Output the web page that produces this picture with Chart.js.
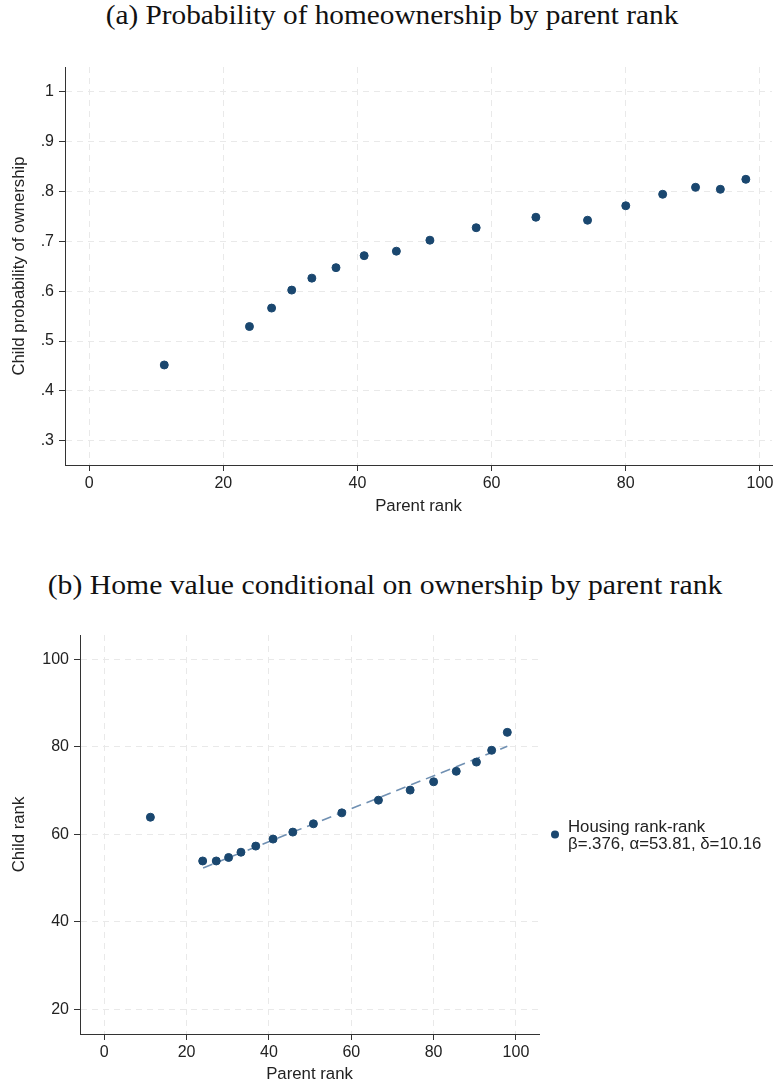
<!DOCTYPE html>
<html><head><meta charset="utf-8">
<script src="https://cdn.jsdelivr.net/npm/chart.js@4.4.1/dist/chart.umd.min.js"></script>
<style>
body{margin:0;background:#fff;width:777px;height:1084px;overflow:hidden;position:relative;}
.title{position:absolute;font-family:"Liberation Serif","DejaVu Serif",serif;font-size:27px;color:#111;white-space:nowrap;transform:translateX(-50%) scaleX(1.085);line-height:30px;}
canvas{position:absolute;left:0;}
</style></head><body>
<div class="title" style="left:392px;top:0px">(a) Probability of homeownership by parent rank</div>
<div class="title" style="left:385px;top:570px;transform:translateX(-50%) scaleX(1.1)">(b) Home value conditional on ownership by parent rank</div>
<canvas id="cA" width="777" height="500" style="top:40px;width:777px;height:500px"></canvas>
<canvas id="cB" width="777" height="484" style="top:600px;width:777px;height:484px"></canvas>
<script>
// ---- data ----
const parentRank = [11.2, 23.9, 27.2, 30.2, 33.2, 36.8, 41.0, 45.8, 50.8, 57.7, 66.6, 74.3, 80.0, 85.5, 90.4, 94.1, 97.9];
const ownershipProb = [0.452, 0.529, 0.566, 0.602, 0.626, 0.647, 0.671, 0.680, 0.702, 0.727, 0.748, 0.742, 0.771, 0.794, 0.808, 0.804, 0.824];
const childRank = [63.9, 53.9, 53.9, 54.7, 55.9, 57.3, 58.9, 60.5, 62.4, 64.9, 67.8, 70.1, 72.0, 74.4, 76.5, 79.2, 83.3];
const fitX = [24.0, 97.9];
const fitY = [52.3, 80.1];
const xTicks = [0, 20, 40, 60, 80, 100];
const xTickLabels = ['0', '20', '40', '60', '80', '100'];
const yTicksA = [0.3, 0.4, 0.5, 0.6, 0.7, 0.8, 0.9, 1.0];
const yTickLabelsA = ['.3', '.4', '.5', '.6', '.7', '.8', '.9', '1'];
const yTicksB = [20, 40, 60, 80, 100];
const yTickLabelsB = ['20', '40', '60', '80', '100'];
const legendLines = ['Housing rank-rank', 'β=.376, α=53.81, δ=10.16'];

// ---- styles ----
const NAVY = '#1a476f';
const FONT = '"Liberation Sans", Arial, sans-serif';
const TXT = '#222';
const GRID = '#e9e9e9';
const AXIS = '#333';

function labelFrom(ticks, labels) {
  return function (v) { const i = ticks.findIndex(t => Math.abs(t - v) < 1e-9); return i >= 0 ? labels[i] : ''; };
}
function axis(opts) {
  return Object.assign({
    type: 'linear',
    grid: { color: GRID, lineWidth: 1, tickLength: 6, tickColor: AXIS, tickWidth: 1, drawTicks: true },
    border: { display: true, color: AXIS, width: 1, dash: [6, 5] },
  }, opts);
}
const pts = (xs, ys) => xs.map((x, i) => ({ x: x, y: ys[i] }));

Chart.defaults.font.family = FONT;
Chart.defaults.color = TXT;
Chart.defaults.animation = false;

// ---- chart A ----
new Chart(document.getElementById('cA'), {
  type: 'scatter',
  data: { datasets: [{ data: pts(parentRank, ownershipProb), backgroundColor: NAVY, borderColor: NAVY, pointRadius: 4, borderWidth: 1, pointHoverRadius: 4 }] },
  options: {
    responsive: false, devicePixelRatio: 1,
    layout: { padding: { top: 27, left: 0, right: 0, bottom: 0 } },
    plugins: { legend: { display: false }, tooltip: { enabled: false } },
    scales: {
      x: axis({
        position: 'bottom', min: -3.6, max: 101.8,
        afterBuildTicks: s => { s.ticks = xTicks.map(v => ({ value: v })); },
        afterFit: s => { s.height = 75; s.paddingLeft = 0; s.paddingRight = 0; },
        ticks: { font: { size: 16 }, color: TXT, padding: 3, maxRotation: 0, callback: labelFrom(xTicks, xTickLabels) },
        title: { display: true, text: 'Parent rank', font: { size: 16.8 }, color: TXT, padding: { top: 0, bottom: 24 } }
      }),
      y: axis({
        position: 'left', min: 0.2516, max: 1.049,
        afterBuildTicks: s => { s.ticks = yTicksA.map(v => ({ value: v })); },
        afterFit: s => { s.width = 65; },
        ticks: { font: { size: 16 }, color: TXT, padding: 5, callback: labelFrom(yTicksA, yTickLabelsA) },
        title: { display: true, text: 'Child probability of ownership', font: { size: 16.8 }, color: TXT, padding: { top: 9, bottom: 0 } }
      })
    }
  }
});

// ---- chart B ----
const sideLegend = {
  id: 'sideLegend',
  afterDraw(chart) {
    const ctx = chart.ctx;
    const mid = (chart.chartArea.top + chart.chartArea.bottom) / 2;
    ctx.save();
    ctx.fillStyle = NAVY;
    ctx.beginPath(); ctx.arc(555, mid, 4, 0, Math.PI * 2); ctx.fill();
    ctx.fillStyle = TXT;
    ctx.font = '16.8px ' + FONT;
    ctx.textBaseline = 'middle';
    ctx.textAlign = 'left';
    ctx.fillText(legendLines[0], 568, mid - 7.5);
    ctx.fillText(legendLines[1], 568, mid + 9.5);
    ctx.restore();
  }
};
new Chart(document.getElementById('cB'), {
  type: 'scatter',
  data: { datasets: [
    { label: legendLines[0], data: pts(parentRank, childRank), backgroundColor: NAVY, borderColor: NAVY, pointRadius: 4, borderWidth: 1, pointHoverRadius: 4, order: 1 },
    { label: 'fit', data: pts(fitX, fitY), showLine: true, pointRadius: 0, borderColor: '#7090b2', borderWidth: 1.6, borderDash: [10, 6], order: 2 }
  ] },
  options: {
    responsive: false, devicePixelRatio: 1,
    layout: { padding: { top: 35, left: 0, right: 238, bottom: 0 } },
    plugins: { legend: { display: false }, tooltip: { enabled: false } },
    scales: {
      x: axis({
        position: 'bottom', min: -5.9, max: 105.6,
        afterBuildTicks: s => { s.ticks = xTicks.map(v => ({ value: v })); },
        afterFit: s => { s.height = 50; },
        ticks: { font: { size: 16 }, color: TXT, padding: 3, maxRotation: 0, callback: labelFrom(xTicks, xTickLabels) },
        title: { display: true, text: 'Parent rank', font: { size: 16.8 }, color: TXT, padding: { top: 0, bottom: 0 } }
      }),
      y: axis({
        position: 'left', min: 14.35, max: 105.55,
        afterBuildTicks: s => { s.ticks = yTicksB.map(v => ({ value: v })); },
        afterFit: s => { s.width = 80; },
        ticks: { font: { size: 16 }, color: TXT, padding: 5, callback: labelFrom(yTicksB, yTickLabelsB) },
        title: { display: true, text: 'Child rank', font: { size: 16.8 }, color: TXT, padding: { top: 9, bottom: 0 } }
      })
    }
  },
  plugins: [sideLegend]
});
</script>
</body></html>
